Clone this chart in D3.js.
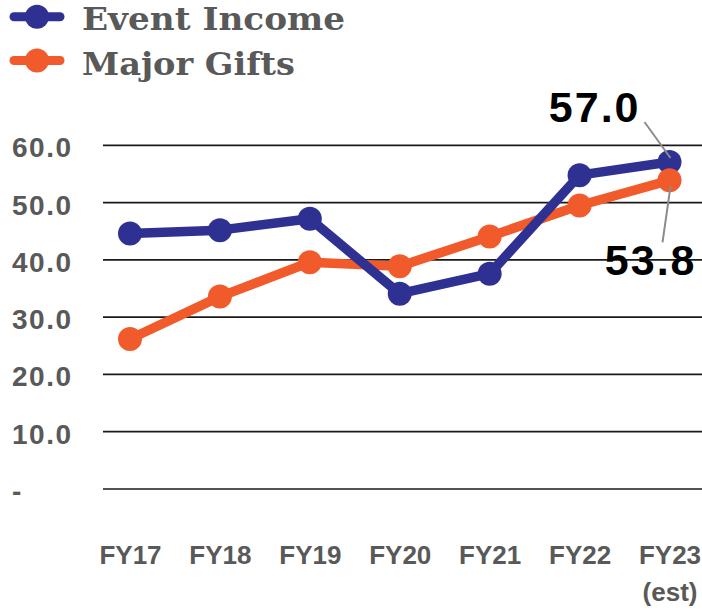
<!DOCTYPE html>
<html>
<head>
<meta charset="utf-8">
<script src="https://cdn.jsdelivr.net/npm/d3@7"></script>
<style>
  html, body { margin: 0; padding: 0; background: #fff; }
  svg { display: block; }
</style>
</head>
<body>
<div id="chart"></div>
<script>
// ---- data ----
const categories = ["FY17", "FY18", "FY19", "FY20", "FY21", "FY22", "FY23"];
const categoryLines = [["FY17"], ["FY18"], ["FY19"], ["FY20"], ["FY21"], ["FY22"], ["FY23", "(est)"]];
const seriesNames = ["Event Income", "Major Gifts"];
const eventIncome = [44.5, 45.1, 47.1, 34.0, 37.5, 54.7, 57.0];
const majorGifts = [26.1, 33.5, 39.5, 38.8, 44.0, 49.4, 53.8];
const yTicks = [0, 10, 20, 30, 40, 50, 60];
const seriesColors = ["#2E3192", "#F15A2B"];

// ---- setup ----
const W = 702, H = 612;
const svg = d3.select("#chart").append("svg").attr("width", W).attr("height", H);

const x = d3.scalePoint().domain(categories).range([130, 669.5]);
const y = d3.scaleLinear().domain([0, 60]).range([488.5, 144.8]);

const gridLeft = 103, gridRight = 702;
const grayText = "#595959";
const sans = "'Liberation Sans', Arial, sans-serif";

// ---- y axis with gridlines ----
const yAxis = d3.axisLeft(y)
  .tickValues(yTicks)
  .tickSize(-(gridRight - gridLeft))
  .tickPadding(0)
  .tickFormat(d => d === 0 ? "-" : d3.format(".1f")(d));

const yg = svg.append("g").attr("transform", `translate(${gridLeft},0)`).call(yAxis);
yg.select(".domain").remove();
yg.selectAll(".tick line").attr("stroke", "#1a1a1a").attr("stroke-width", 1.7);
yg.selectAll(".tick text")
  .attr("x", 12 - gridLeft)
  .attr("dy", null)
  .attr("y", 12)
  .attr("text-anchor", "start")
  .attr("fill", grayText)
  .style("font-family", sans)
  .style("font-weight", "bold")
  .style("font-size", "28px")
  .style("letter-spacing", "1.5px");

// ---- x axis ----
const xAxis = d3.axisBottom(x).tickSize(0).tickFormat(() => "");
const xg = svg.append("g").attr("transform", "translate(0,0)").call(xAxis);
xg.select(".domain").remove();
xg.selectAll(".tick text").each(function(d, i) {
  const t = d3.select(this)
    .attr("y", 564).attr("dy", null)
    .attr("text-anchor", "middle")
    .attr("fill", grayText)
    .style("font-family", sans)
    .style("font-weight", "bold")
    .style("font-size", "26px");
  t.text(null);
  categoryLines[i].forEach((line, j) => {
    t.append("tspan").attr("x", 0).attr("y", 564 + j * 37).text(line);
  });
});

// ---- lines ----
const line = d3.line().x((d, i) => x(categories[i])).y(d => y(d));
const allSeries = [eventIncome, majorGifts];

// orange line first, then blue line on top
[1, 0].forEach(s => {
  svg.append("path")
    .datum(allSeries[s])
    .attr("d", line)
    .attr("fill", "none")
    .attr("stroke", seriesColors[s])
    .attr("stroke-width", 9.5)
    .attr("stroke-linejoin", "round");
});
// markers: blue then orange
[0, 1].forEach(s => {
  svg.append("g").selectAll("circle")
    .data(allSeries[s])
    .join("circle")
    .attr("cx", (d, i) => x(categories[i]))
    .attr("cy", d => y(d))
    .attr("r", 12)
    .attr("fill", seriesColors[s]);
});

// ---- data labels for last points ----
const last = categories.length - 1;
const bx = x(categories[last]), byv = y(eventIncome[last]);
const ox = x(categories[last]), oyv = y(majorGifts[last]);

svg.append("line")
  .attr("x1", bx - 25).attr("y1", byv - 40)
  .attr("x2", bx + 1).attr("y2", byv - 4)
  .attr("stroke", "#8c8c8c").attr("stroke-width", 2);
svg.append("line")
  .attr("x1", ox + 1).attr("y1", oyv + 6)
  .attr("x2", ox - 7).attr("y2", oyv + 62)
  .attr("stroke", "#8c8c8c").attr("stroke-width", 2);

svg.append("text")
  .attr("x", bx - 29).attr("y", byv - 40)
  .attr("text-anchor", "end")
  .style("font-family", sans).style("font-weight", "bold")
  .style("font-size", "43px").style("letter-spacing", "2px")
  .attr("fill", "#000")
  .text(d3.format(".1f")(eventIncome[last]));
svg.append("text")
  .attr("x", ox + 27).attr("y", oyv + 95)
  .attr("text-anchor", "end")
  .style("font-family", sans).style("font-weight", "bold")
  .style("font-size", "43px").style("letter-spacing", "2px")
  .attr("fill", "#000")
  .text(d3.format(".1f")(majorGifts[last]));

// ---- legend ----
const legendRows = [16.7, 60.5];
const legendText = [30, 75];
const legendWidths = [263, 213];
seriesNames.forEach((name, i) => {
  const g = svg.append("g");
  g.append("line")
    .attr("x1", 14).attr("x2", 60)
    .attr("y1", legendRows[i]).attr("y2", legendRows[i])
    .attr("stroke", seriesColors[i]).attr("stroke-width", 9)
    .attr("stroke-linecap", "round");
  g.append("circle")
    .attr("cx", 37).attr("cy", legendRows[i]).attr("r", 12)
    .attr("fill", seriesColors[i]);
  g.append("text")
    .attr("x", 82).attr("y", legendText[i])
    .attr("textLength", legendWidths[i])
    .attr("lengthAdjust", "spacingAndGlyphs")
    .attr("fill", grayText)
    .style("font-family", "'DejaVu Serif', Georgia, serif")
    .style("font-weight", "bold")
    .style("font-size", "32px")
    .text(name);
});
</script>
</body>
</html>
